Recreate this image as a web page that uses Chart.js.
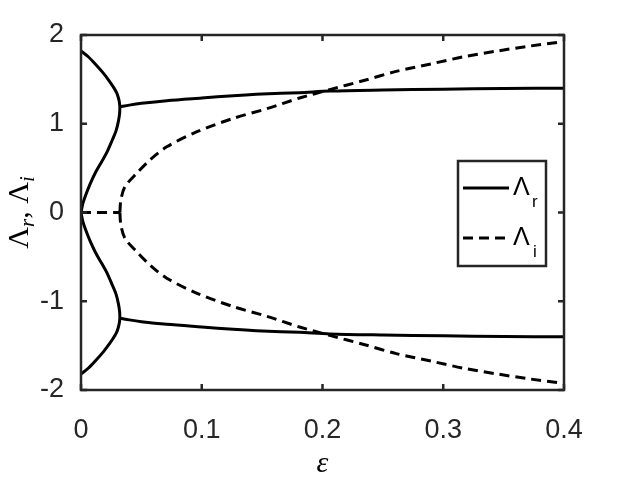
<!DOCTYPE html>
<html>
<head>
<meta charset="utf-8">
<script src="https://cdn.jsdelivr.net/npm/chart.js@4.4.1/dist/chart.umd.min.js"></script>
<style>
  body { margin: 0; background: #fff; }
  canvas { display: block; }
</style>
</head>
<body>
<canvas id="myChart" width="623" height="483"></canvas>
<script>
// tick labels
const xTicks = [0, 0.1, 0.2, 0.3, 0.4];
const yTicks = [-2, -1, 0, 1, 2];

// Lambda_r, branch starting at +/-1.82 and ending at the junction
const epsUpper = [0, 0.006, 0.012, 0.0185, 0.023, 0.0265, 0.0295, 0.031, 0.0318, 0.0322];
const reUpperPos = [1.82, 1.755, 1.67, 1.57, 1.49, 1.42, 1.35, 1.29, 1.24, 1.19];
const reUpperNeg = [-1.82, -1.755, -1.67, -1.57, -1.49, -1.42, -1.35, -1.29, -1.24, -1.19];

// Lambda_r, branch starting at 0 and ending at the junction
const epsInner = [0, 0.0015, 0.004, 0.0075, 0.012, 0.017, 0.0215, 0.026, 0.029, 0.031, 0.032, 0.0322];
const reInnerPos = [0, 0.1, 0.2, 0.32, 0.45, 0.57, 0.68, 0.82, 0.92, 1.03, 1.12, 1.19];
const reInnerNeg = [0, -0.1, -0.2, -0.32, -0.45, -0.57, -0.68, -0.82, -0.92, -1.03, -1.12, -1.19];

// Lambda_r after the junction
const epsOuter = [0.0322, 0.04, 0.05, 0.071, 0.1, 0.126, 0.15, 0.181, 0.206, 0.25, 0.3, 0.35, 0.4];
const reOuterPos = [1.19, 1.21, 1.23, 1.26, 1.29, 1.316, 1.335, 1.35, 1.368, 1.38, 1.39, 1.397, 1.40];
const reOuterNeg = [-1.19, -1.21, -1.23, -1.26, -1.29, -1.316, -1.335, -1.35, -1.368, -1.38, -1.39, -1.397, -1.40];

// Lambda_i, zero part then the two branches
const epsZero = [0, 0.0322];
const imZero = [0, 0];
const epsImag = [0.0322, 0.033, 0.0364, 0.046, 0.057, 0.071, 0.096, 0.126, 0.154, 0.181, 0.206, 0.235, 0.261, 0.29, 0.317, 0.345, 0.372, 0.4];
const imPos = [0, 0.14, 0.29, 0.44, 0.59, 0.74, 0.91, 1.06, 1.17, 1.29, 1.385, 1.49, 1.59, 1.675, 1.755, 1.82, 1.876, 1.925];
const imNeg = [0, -0.14, -0.29, -0.44, -0.59, -0.74, -0.91, -1.06, -1.17, -1.29, -1.385, -1.49, -1.59, -1.675, -1.755, -1.82, -1.876, -1.925];

const ink = "#262626";
const box = { left: 81, top: 35, right: 564, bottom: 390 };

function pts(xs, ys) {
    return xs.map((x, i) => ({ x: x, y: ys[i] }));
}

function line(label, xs, ys, dashed) {
    return {
        label: label,
        data: pts(xs, ys),
        showLine: true,
        borderColor: "#000",
        borderWidth: 3,
        borderDash: dashed ? [10, 6] : [],
        pointRadius: 0,
        tension: 0.3,
        fill: false,
    };
}

// box, inward ticks, legend and axis titles
const decor = {
    id: "decor",
    afterDraw(chart) {
        const ctx = chart.ctx;
        const a = chart.chartArea;
        const xs = chart.scales.x;
        const ys = chart.scales.y;
        ctx.save();
        ctx.strokeStyle = ink;
        ctx.lineWidth = 2.5;
        ctx.setLineDash([]);
        ctx.strokeRect(a.left, a.top, a.right - a.left, a.bottom - a.top);
        ctx.beginPath();
        xTicks.forEach((v) => {
            const px = xs.getPixelForValue(v);
            ctx.moveTo(px, a.bottom); ctx.lineTo(px, a.bottom - 6);
            ctx.moveTo(px, a.top); ctx.lineTo(px, a.top + 6);
        });
        yTicks.forEach((v) => {
            const py = ys.getPixelForValue(v);
            ctx.moveTo(a.left, py); ctx.lineTo(a.left + 6, py);
            ctx.moveTo(a.right, py); ctx.lineTo(a.right - 6, py);
        });
        ctx.stroke();

        // legend
        ctx.fillStyle = "#fff";
        ctx.fillRect(458, 161, 88, 105);
        ctx.strokeRect(458, 161, 88, 105);
        ctx.strokeStyle = "#000";
        ctx.lineWidth = 3;
        ctx.beginPath(); ctx.moveTo(463, 188); ctx.lineTo(509, 188); ctx.stroke();
        ctx.setLineDash([10, 6]);
        ctx.beginPath(); ctx.moveTo(463, 238); ctx.lineTo(509, 238); ctx.stroke();
        ctx.setLineDash([]);
        ctx.fillStyle = "#000";
        ctx.textBaseline = "alphabetic";
        ctx.textAlign = "left";
        ctx.font = "25px 'Liberation Sans'";
        ctx.fillText("Λ", 513, 195);
        ctx.fillText("Λ", 513, 245);
        ctx.font = "17px 'Liberation Sans'";
        ctx.fillText("r", 532, 207);
        ctx.fillText("i", 533, 257);

        // x title
        ctx.font = "italic 30px 'Liberation Serif'";
        ctx.textAlign = "center";
        ctx.fillText("ε", (a.left + a.right) / 2, 472);

        // y title, rotated
        const parts = [
            ["Λ", "30px 'Liberation Serif'", 0],
            ["r", "italic 21px 'Liberation Serif'", 6],
            [", ", "30px 'Liberation Serif'", 0],
            ["Λ", "30px 'Liberation Serif'", 0],
            ["i", "italic 21px 'Liberation Serif'", 6],
        ];
        let total = 0;
        parts.forEach((p) => { ctx.font = p[1]; total += ctx.measureText(p[0]).width; });
        ctx.translate(28, (a.top + a.bottom) / 2 + total / 2);
        ctx.rotate(-Math.PI / 2);
        ctx.textAlign = "left";
        let cx = 0;
        parts.forEach((p) => {
            ctx.font = p[1];
            ctx.fillText(p[0], cx, p[2]);
            cx += ctx.measureText(p[0]).width;
        });
        ctx.restore();
    },
};

const tickFont = { family: "'Liberation Sans', Arial, sans-serif", size: 27 };

new Chart(document.getElementById("myChart").getContext("2d"), {
    type: "scatter",
    data: {
        datasets: [
            line("Λr", epsUpper, reUpperPos, false),
            line("Λr", epsUpper, reUpperNeg, false),
            line("Λr", epsInner, reInnerPos, false),
            line("Λr", epsInner, reInnerNeg, false),
            line("Λr", epsOuter, reOuterPos, false),
            line("Λr", epsOuter, reOuterNeg, false),
            line("Λi", epsZero, imZero, true),
            line("Λi", epsImag, imPos, true),
            line("Λi", epsImag, imNeg, true),
        ],
    },
    options: {
        responsive: false,
        animation: false,
        devicePixelRatio: 1,
        layout: { padding: { left: 0, top: box.top, right: 623 - box.right, bottom: 0 } },
        plugins: { legend: { display: false }, tooltip: { enabled: false } },
        scales: {
            x: {
                type: "linear",
                min: 0,
                max: 0.4,
                grid: { display: false },
                border: { display: false },
                afterBuildTicks: (s) => { s.ticks = xTicks.map((v) => ({ value: v })); },
                afterFit: (s) => { s.height = 483 - box.bottom; },
                ticks: {
                    color: ink,
                    font: tickFont,
                    padding: 16,
                    maxRotation: 0,
                    callback: (v) => (v === 0 ? "0" : v.toFixed(1)),
                },
            },
            y: {
                type: "linear",
                min: -2,
                max: 2,
                grid: { display: false },
                border: { display: false },
                afterBuildTicks: (s) => { s.ticks = yTicks.map((v) => ({ value: v })); },
                afterFit: (s) => { s.width = box.left; },
                ticks: {
                    color: ink,
                    font: tickFont,
                    padding: 9,
                    callback: (v) => String(v),
                },
            },
        },
    },
    plugins: [decor],
});
</script>
</body>
</html>
